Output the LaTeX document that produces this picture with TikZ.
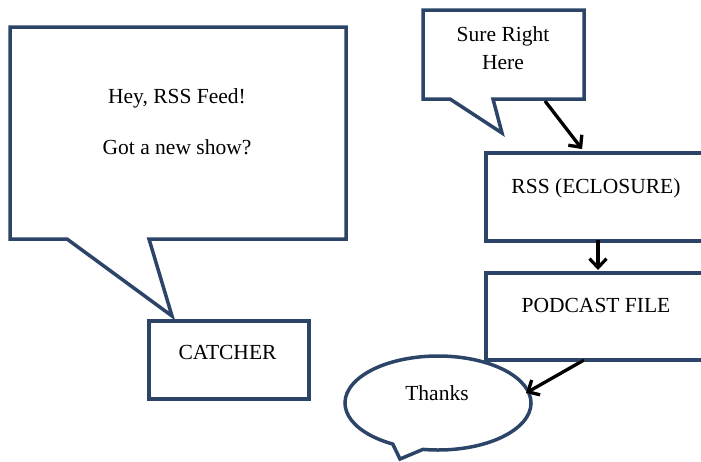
\documentclass[tikz,border=0pt]{standalone}
\usepackage{fontspec}
\setmainfont{Liberation Serif}
\usetikzlibrary{arrows.meta}
\definecolor{boxblue}{HTML}{2B4468}
\tikzset{
  shape line/.style={draw=boxblue, line width=3.5pt, fill=white, line join=miter},
  label text/.style={font=\fontsize{21.5}{26}\selectfont, inner sep=0pt, anchor=center},
  flow arrow/.style={draw=black, line width=3.2pt, -{Straight Barb[length=9pt,width=17pt,line width=3.2pt]}},
  flow shadow/.style={draw=black!40, line width=3.2pt, -{Straight Barb[length=9pt,width=17pt,line width=3.2pt]}, shift={(1.8,1.8)}},
}
\begin{document}
\begin{tikzpicture}[x=1pt,y=-1pt]
\useasboundingbox (0,0) rectangle (701,461);

% Left callout
\draw[shape line] (10,27) -- (346,27) -- (346,239) -- (149,239) -- (172,316) -- (67,239) -- (10,239) -- cycle;
\node[label text] (hey) at (177,98) {Hey, RSS Feed!};
\node[label text] (got) at (177,147) {Got a new show?};

% Catcher
\node[shape line, minimum width=160pt, minimum height=78pt, anchor=north west] (catcher) at (147,319) {};
\node[label text] (catchertext) at (227.5,352) {CATCHER};

% Sure Right callout
\draw[shape line] (423,10) -- (584,10) -- (584,99) -- (493,99) -- (502,133) -- (450,99) -- (423,99) -- cycle;
\node[label text, align=center, font=\fontsize{21.5}{28}\selectfont] (sure) at (503,48) {Sure Right\\Here};
\coordinate (sureout) at (545,101);

% RSS box
\node[shape line, minimum width=236pt, minimum height=88pt, anchor=north west] (rss) at (484,151) {};
\node[label text] (rsstext) at (596,188) {RSS (ECLOSURE)};

% Podcast box
\node[shape line, minimum width=236pt, minimum height=87pt, anchor=north west] (pod) at (484,271) {};
\node[label text] (podtext) at (596,305) {PODCAST FILE};

% Thanks callout
\coordinate (tc) at (438,403);
\draw[shape line] (tc) ++(119.1:93 and 47) arc[start angle=119.1, end angle=459.3, x radius=93, y radius=47] -- (400,459) -- cycle;
\coordinate (thanksin) at (526,393);
\node[label text] (thanks) at (437,393) {Thanks};

% arrows
\coordinate (rsstop) at (582,149);
\coordinate (rssbot) at (598,240);
\coordinate (podtop) at (598,270);
\coordinate (podout) at (584,360);
\draw[flow shadow] (sureout) -- (rsstop);
\draw[flow arrow] (sureout) -- (rsstop);
\draw[flow arrow] (rssbot) -- (podtop);
\draw[flow shadow] (podout) -- (thanksin);
\draw[flow arrow] (podout) -- (thanksin);
\end{tikzpicture}
\end{document}
